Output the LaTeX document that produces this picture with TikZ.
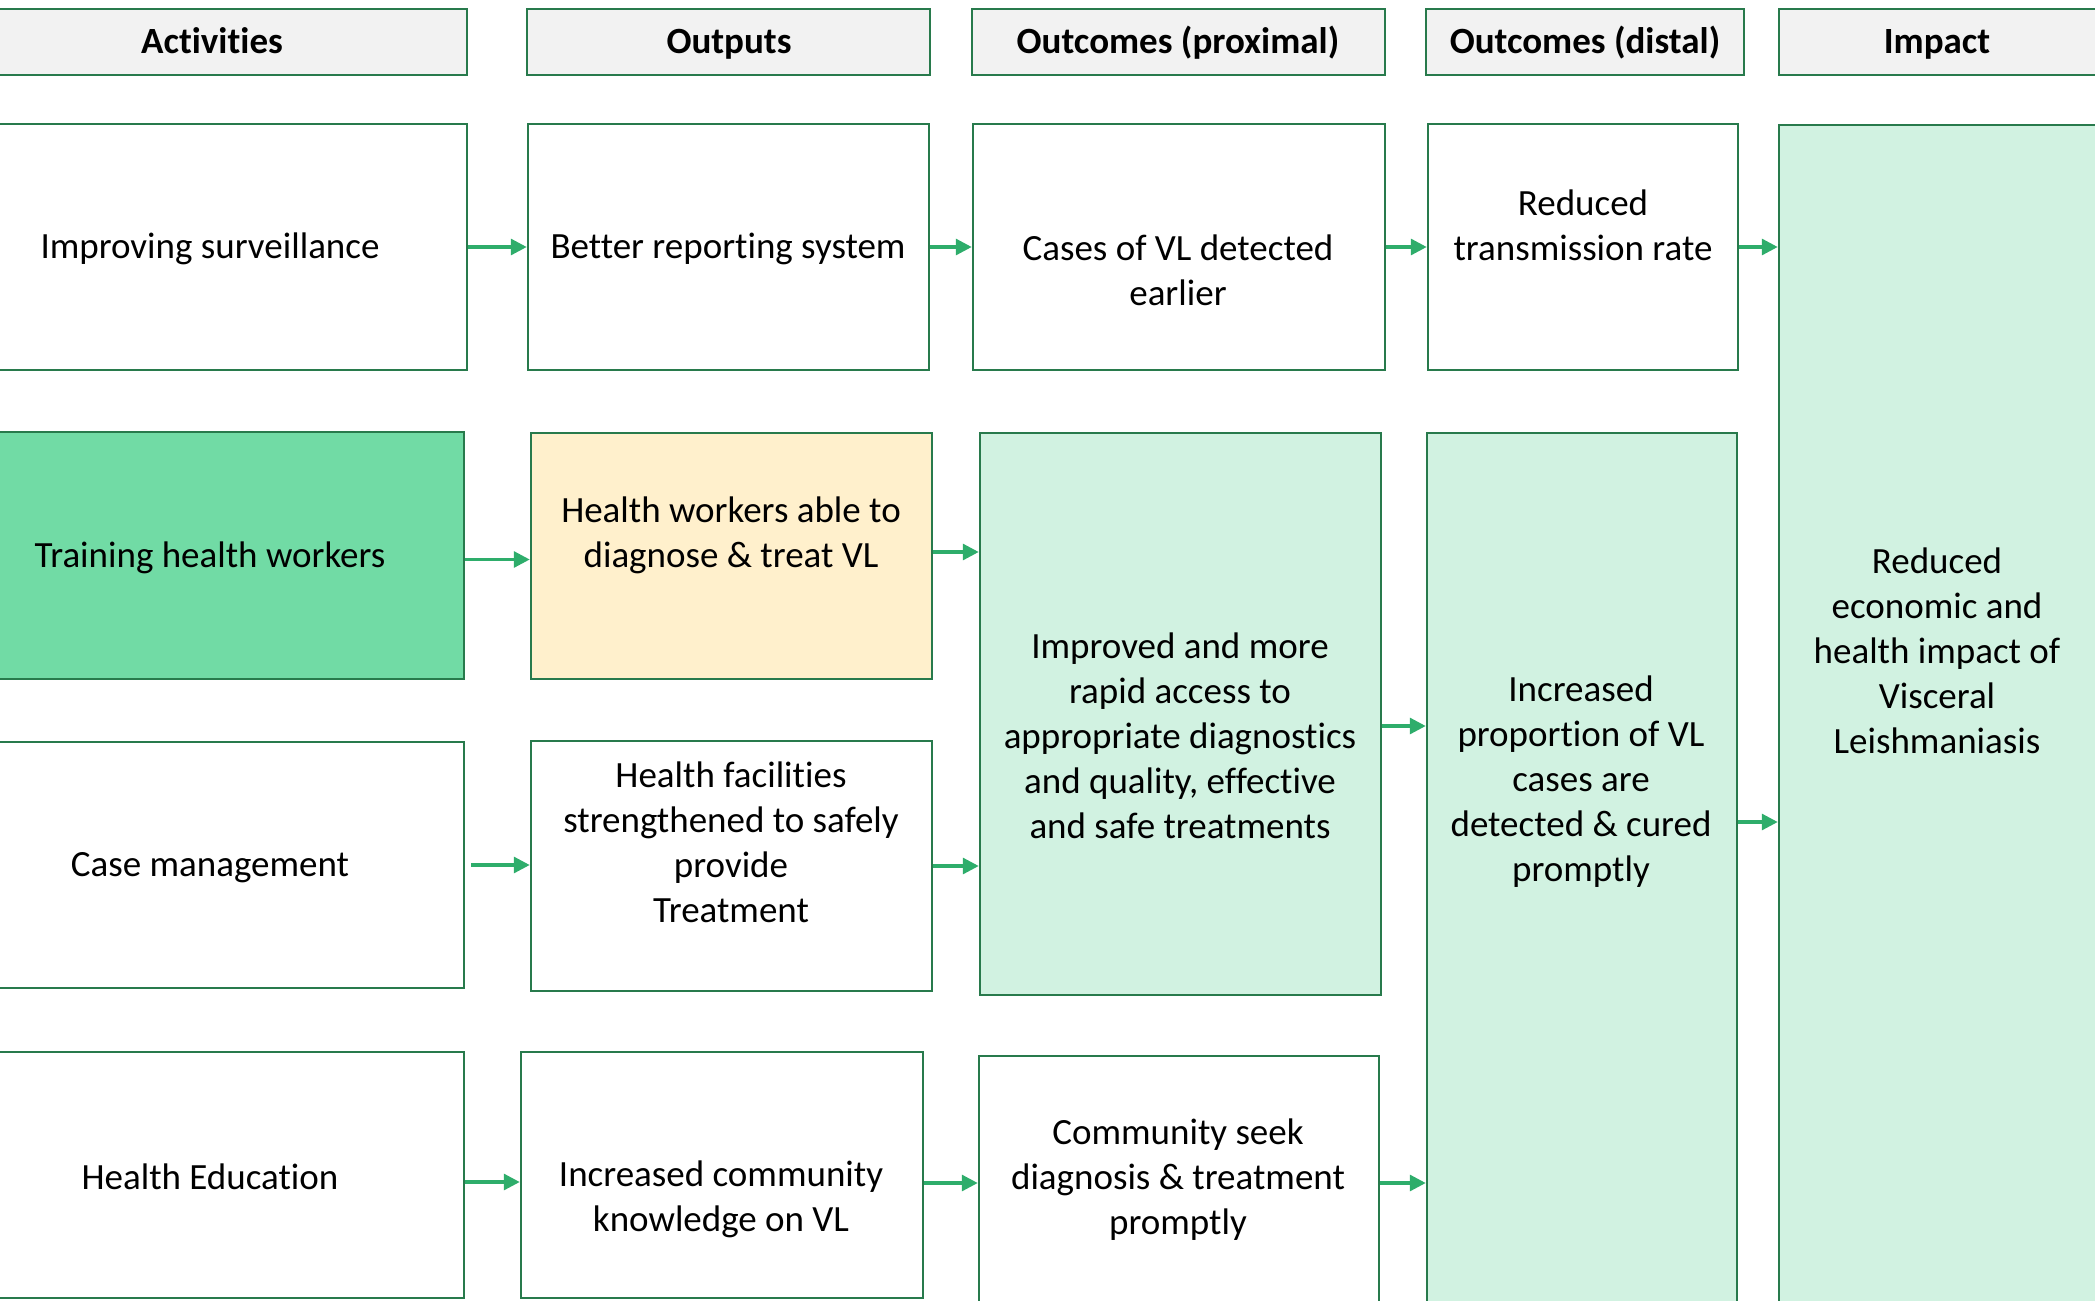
\documentclass[tikz,border=0pt]{standalone}
\usepackage{fontspec}
\setmainfont{Carlito}[Ligatures=NoCommon]
\usetikzlibrary{fit,arrows.meta}
\definecolor{bordc}{HTML}{287A4C}
\definecolor{arrc}{HTML}{2EAD6B}
\definecolor{hdrfill}{HTML}{F2F2F2}
\definecolor{trainfill}{HTML}{71DBA5}
\definecolor{ltgreen}{HTML}{D1F2E1}
\definecolor{ltyellow}{HTML}{FFF0CC}
\tikzset{
  box/.style={draw=bordc, line width=1.25pt, inner sep=0pt},
  hdrbox/.style={box, fill=hdrfill},
  hdr/.style={inner sep=0pt, align=center, text height=11.8pt, text depth=0pt, font=\bfseries\fontsize{18.5}{22.5}\selectfont},
  txt/.style={inner sep=0pt, align=center, font=\fontsize{18.5}{22.5}\selectfont},
  arr/.style={draw=arrc, line width=1.6pt, -{Triangle[length=8pt,width=8pt]}}
}
\begin{document}
\begin{tikzpicture}[x=0.5pt,y=-0.5pt]
\useasboundingbox (0,0) rectangle (2095,1301);
\clip (0,0) rectangle (2095,1301);
% headers
\node[hdrbox, fit={(-47,9) (467,75)}] (hA) {};
\node[hdrbox, fit={(527,9) (930,75)}] (hO) {};
\node[hdrbox, fit={(972,9) (1385,75)}] (hP) {};
\node[hdrbox, fit={(1426,9) (1744,75)}] (hD) {};
\node[hdrbox, fit={(1779,9) (2098,75)}] (hI) {};
\node[hdr] (hAt) at (212,42) {Activities};
\node[hdr] (hOt) at (729,42) {Outputs};
\node[hdr] (hPt) at (1178,42) {Outcomes (proximal)};
\node[hdr] (hDt) at (1585,42) {Outcomes (distal)};
\node[hdr] (hIt) at (1937,42) {Impact};
% big boxes
\node[box, fill=ltgreen, fit={(1779,125) (2098,1330)}] (imp) {};
\node[box, fill=ltgreen, fit={(1427,433) (1737,1330)}] (d2) {};
\node[box, fill=ltgreen, fit={(980,433) (1381,995)}] (p2) {};
% row 1
\node[box, fit={(-47,124) (467,370)}] (a1) {};
\node[box, fit={(528,124) (929,370)}] (o1) {};
\node[box, fit={(973,124) (1385,370)}] (p1) {};
\node[box, fit={(1428,124) (1738,370)}] (d1) {};
% row 2
\node[box, fill=trainfill, fit={(-47,432) (464,679)}] (a2) {};
\node[box, fill=ltyellow, fit={(531,433) (932,679)}] (o2) {};
% row 3
\node[box, fit={(-47,742) (464,988)}] (a3) {};
\node[box, fit={(531,741) (932,991)}] (o3) {};
% row 4
\node[box, fit={(-47,1052) (464,1298)}] (a4) {};
\node[box, fit={(521,1052) (923,1298)}] (o4) {};
\node[box, fit={(979,1056) (1379,1310)}] (p4) {};
% texts
\node[txt] (a1t) at (210,249) {Improving surveillance};
\node[txt] (o1t) at (728,249) {Better reporting system};
\node[txt] (p1t) at (1178,270) {Cases of VL detected\\earlier};
\node[txt] (d1t) at (1583,225) {Reduced\\transmission rate};
\node[txt] (a2t) at (210,558) {Training health workers};
\node[txt] (o2t) at (731,535) {Health workers able to\\diagnose \& treat VL};
\node[txt] (p2t) at (1180,736) {Improved and more\\rapid access to\\appropriate diagnostics\\and quality, effective\\and safe treatments};
\node[txt] (d2t) at (1581,782) {Increased\\proportion of VL\\cases are\\detected \& cured\\promptly};
\node[txt] (impt) at (1937,651) {Reduced\\economic and\\health impact of\\Visceral\\Leishmaniasis};
\node[txt] (a3t) at (210,868) {Case management};
\node[txt] (o3t) at (731,842) {Health facilities\\strengthened to safely\\provide\\Treatment};
\node[txt] (a4t) at (210,1177) {Health Education};
\node[txt] (o4t) at (721,1199) {Increased community\\knowledge on VL};
\node[txt] (p4t) at (1178,1180) {Community seek\\diagnosis \& treatment\\promptly};
% arrows
\draw[arr] (a1.east) -- (o1.west);
\draw[arr] (o1.east) -- (p1.west);
\draw[arr] (p1.east) -- (d1.west);
\draw[arr] (d1.east) -- (d1.east -| imp.west);
\draw[arr] ([yshift=-2pt]a2.east) -- ([yshift=-2pt]a2.east -| o2.west);
\draw[arr] ([yshift=2pt]o2.east) -- ([yshift=2pt]o2.east -| p2.west);
\draw[arr] ([xshift=3pt]a3.east) -- (a3.east -| o3.west);
\draw[arr] (o3.east) -- (o3.east -| p2.west);
\draw[arr] ([yshift=-3.5pt]a4.east) -- ([yshift=-3.5pt]a4.east -| o4.west);
\draw[arr] ([yshift=-4pt]o4.east) -- ([yshift=-4pt]o4.east -| p4.west);
\draw[arr] (p4.east) -- (p4.east -| d2.west);
\draw[arr] ([yshift=-6pt]p2.east) -- ([yshift=-6pt]p2.east -| d2.west);
\draw[arr] ([yshift=29.75pt]d2.east) -- ([yshift=29.75pt]d2.east -| imp.west);
\end{tikzpicture}
\end{document}
